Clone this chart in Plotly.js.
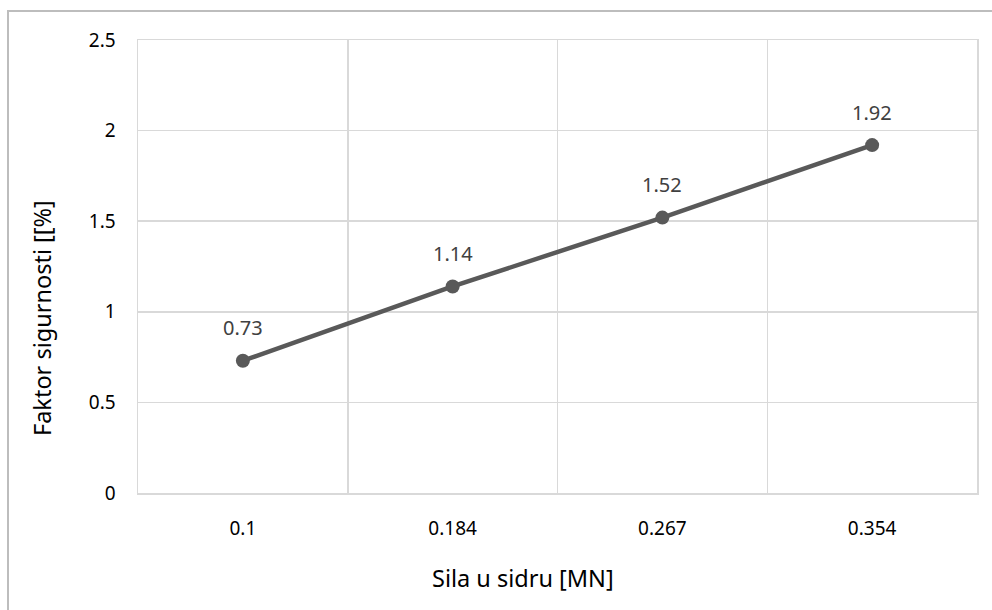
<!DOCTYPE html>
<html><head><meta charset="utf-8">
<script src="https://cdn.plot.ly/plotly-3.0.1.min.js"></script>
<style>
body{margin:0;padding:0;background:#fff;}
#wrap{position:relative;width:992px;height:610px;}
#frame{position:absolute;left:7px;top:10px;width:985px;height:600px;border-top:2px solid #bdbdbd;border-left:2px solid #bdbdbd;box-sizing:border-box;pointer-events:none;z-index:5;}
#chart{position:absolute;left:0;top:0;width:992px;height:610px;}
</style></head>
<body>
<div id="wrap"><div id="chart"></div><div id="frame"></div></div>
<script>
const categories = ["0.1", "0.184", "0.267", "0.354"];
const values = [0.73, 1.14, 1.52, 1.92];
const labels = ["0.73", "1.14", "1.52", "1.92"];
const yTicks = [0, 0.5, 1, 1.5, 2, 2.5];
const yTickText = ["0", "0.5", "1", "1.5", "2", "2.5"];
const xTitle = "Sila u sidru [MN]";
const yTitle = "Faktor sigurnosti [[%]";

const font = "'Noto Sans', 'Open Sans', sans-serif";
const trace = {
  x: categories, y: values, type: 'scatter', mode: 'lines+markers',
  line: {color: '#595959', width: 4.5},
  marker: {color: '#595959', size: 14},
  hoverinfo: 'skip'
};
const annotations = categories.map((c, i) => ({
  x: i, y: values[i], text: labels[i], showarrow: false,
  xref: 'x', yref: 'y', yshift: 33,
  font: {family: font, size: 20, color: '#404040'}
}));
annotations.push({
  text: xTitle, xref: 'paper', yref: 'paper', x: 0.4589, y: -0.1876,
  xanchor: 'center', yanchor: 'middle', showarrow: false,
  font: {family: font, size: 23.5, color: '#000'}
});
annotations.push({
  text: yTitle, xref: 'paper', yref: 'paper', x: -0.1144, y: 0.3863,
  xanchor: 'center', yanchor: 'middle', showarrow: false, textangle: -90,
  font: {family: font, size: 23.5, color: '#000'}
});
const layout = {
  width: 992, height: 610,
  margin: {l: 138, r: 15, t: 40, b: 117},
  paper_bgcolor: '#fff', plot_bgcolor: '#fff',
  showlegend: false,
  font: {family: font, size: 19, color: '#000'},
  xaxis: {
    type: 'category', range: [-0.5, 3.5], tickson: 'boundaries',
    showgrid: true, gridcolor: '#d9d9d9', gridwidth: 1.5,
    showline: true, linecolor: '#d9d9d9', linewidth: 1.5, mirror: true,
    ticks: '', ticklen: 0, ticklabelstandoff: 18, tickfont: {family: font, size: 19, color: '#000'},
    zeroline: false, fixedrange: true
  },
  yaxis: {
    range: [0, 2.5], tickvals: yTicks, ticktext: yTickText,
    showgrid: true, gridcolor: '#d9d9d9', gridwidth: 1.5,
    showline: true, linecolor: '#d9d9d9', linewidth: 1.5, mirror: true,
    ticks: '', ticklabelstandoff: 17, tickfont: {family: font, size: 19, color: '#000'},
    zeroline: false, fixedrange: true
  },
  annotations: annotations
};
Plotly.newPlot('chart', [trace], layout, {displayModeBar: false, staticPlot: true});
</script>
</body></html>
